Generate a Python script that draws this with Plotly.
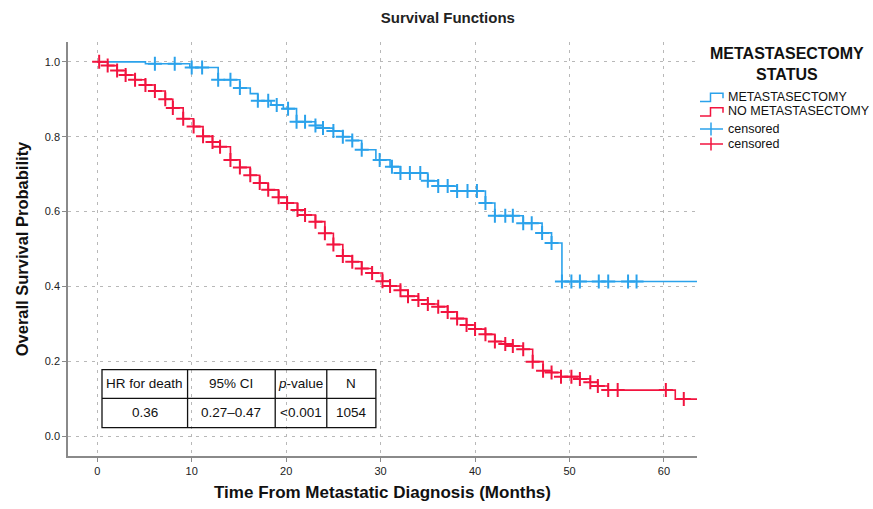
import numpy as np
import plotly.graph_objects as go

# ---------------- data ----------------
blue_times = [0, 5.1, 9.8, 12.8, 15.1, 16.2, 17.0, 18.4, 19.7, 21.1, 23.1, 23.9, 25.0, 26.0,
              27.0, 28.0, 29.5, 31.0, 32.1, 35.0, 36.1, 38.1, 41.1, 42.1, 45.1, 47.1, 48.1,
              49.2, 63.5]
blue_surv = [1.0, 0.995, 0.985, 0.952, 0.930, 0.915, 0.896, 0.885, 0.875, 0.840, 0.830, 0.823,
             0.815, 0.800, 0.790, 0.765, 0.738, 0.720, 0.703, 0.682, 0.668, 0.655, 0.623, 0.589,
             0.569, 0.543, 0.516, 0.413, 0.413]
blue_censor = [6.1, 8.2, 10.0, 11.1, 12.8, 14.1, 15.1, 17.0, 18.1, 19.0, 20.2, 21.1, 22.0, 23.1,
               23.9, 25.0, 26.0, 27.0, 28.0, 29.9, 31.2, 32.1, 33.1, 34.2, 35.0, 36.1, 37.1,
               38.1, 39.2, 40.2, 41.1, 42.1, 43.2, 44.0, 45.1, 46.0, 47.1, 48.1, 49.2, 50.2,
               51.1, 53.1, 54.1, 56.2, 57.1]

red_times = [0, 1.1, 2.1, 3.0, 4.0, 5.1, 6.1, 7.2, 8.0, 9.1, 10.2, 11.2, 12.2, 13.0, 14.1, 15.1,
             16.2, 17.2, 18.1, 19.2, 20.1, 21.2, 22.0, 23.1, 24.1, 25.0, 26.0, 27.0, 28.0, 29.1,
             30.2, 31.0, 32.1, 32.9, 34.0, 35.0, 36.1, 37.1, 38.1, 39.1, 40.0, 41.1, 42.1, 43.2,
             44.0, 45.1, 46.1, 47.2, 48.1, 49.1, 51.1, 52.2, 53.0, 54.1, 61.2, 63.5]
red_surv = [1.0, 0.99, 0.977, 0.965, 0.952, 0.938, 0.922, 0.90, 0.877, 0.848, 0.827, 0.801,
            0.786, 0.773, 0.738, 0.718, 0.697, 0.676, 0.658, 0.638, 0.623, 0.604, 0.591, 0.573,
            0.542, 0.512, 0.481, 0.466, 0.448, 0.436, 0.414, 0.401, 0.390, 0.374, 0.364, 0.353,
            0.346, 0.332, 0.314, 0.297, 0.286, 0.272, 0.253, 0.246, 0.241, 0.232, 0.199, 0.175,
            0.170, 0.159, 0.153, 0.144, 0.134, 0.123, 0.099, 0.099]
red_censor = [0.2, 1.1, 2.1, 3.0, 4.0, 5.1, 6.1, 7.2, 8.0, 9.1, 10.2, 11.2, 12.2, 13.0, 14.1,
              15.1, 16.2, 17.2, 18.1, 19.2, 20.1, 21.2, 22.0, 23.1, 24.1, 25.0, 26.0, 27.0, 28.0,
              29.1, 30.2, 31.0, 32.1, 32.9, 34.0, 35.0, 36.1, 37.1, 38.1, 39.1, 40.0, 41.1, 42.1,
              43.2, 44.0, 45.1, 46.1, 47.2, 48.1, 49.1, 50.2, 51.1, 52.2, 53.0, 54.1, 55.1, 60.2,
              62.1]

group_names = ["METASTASECTOMY", "NO METASTASECTOMY"]
censor_label = "censored"
legend_title = "METASTASECTOMY<br>STATUS"
table_header = ["HR for death", "95% CI", "<i>p</i>-value", "N"]
table_values = ["0.36", "0.27\u20130.47", "<0.001", "1054"]

x_ticks = [0, 10, 20, 30, 40, 50, 60]
y_ticks = [0.0, 0.2, 0.4, 0.6, 0.8, 1.0]

BLUE = "#2BA2EB"
RED = "#F2143F"
FONT = "Liberation Sans, Arial, sans-serif"

# plot-area geometry (pixels) used for the hand-drawn legend
W, H = 873, 509
ML, MR, MT, MB = 68, 176, 42, 53
PW, PH = W - ML - MR, H - MT - MB


def px2x(px):
    return (px - ML) / PW


def py2y(py):
    return (H - MB - py) / PH


def step_value(times, surv, t):
    idx = np.searchsorted(np.array(times), t, side="right") - 1
    return [surv[i] for i in idx]


fig = go.Figure()
fig.add_trace(go.Scatter(x=blue_times, y=blue_surv, mode="lines", line_shape="hv",
                         line=dict(color=BLUE, width=1.6), name=group_names[0]))
fig.add_trace(go.Scatter(x=red_times, y=red_surv, mode="lines", line_shape="hv",
                         line=dict(color=RED, width=1.6), name=group_names[1]))
fig.add_trace(go.Scatter(x=blue_censor, y=step_value(blue_times, blue_surv, blue_censor),
                         mode="markers", name=censor_label,
                         marker=dict(symbol="cross-thin", size=10,
                                     line=dict(color=BLUE, width=2))))
fig.add_trace(go.Scatter(x=red_censor, y=step_value(red_times, red_surv, red_censor),
                         mode="markers", name=censor_label,
                         marker=dict(symbol="cross-thin", size=10,
                                     line=dict(color=RED, width=2))))

# ---- HR table (drawn in data coordinates) ----
col_edges = [0.5, 9.56, 18.84, 24.3, 29.5]
row_edges = [0.178, 0.101, 0.023]
shapes = []
shapes.append(dict(type="rect", xref="x", yref="y", x0=col_edges[0], x1=col_edges[-1],
                   y0=row_edges[-1], y1=row_edges[0], line=dict(color="#111", width=1.3)))
for xe in col_edges[1:-1]:
    shapes.append(dict(type="line", xref="x", yref="y", x0=xe, x1=xe, y0=row_edges[-1],
                       y1=row_edges[0], line=dict(color="#111", width=1.3)))
shapes.append(dict(type="line", xref="x", yref="y", x0=col_edges[0], x1=col_edges[-1],
                   y0=row_edges[1], y1=row_edges[1], line=dict(color="#111", width=1.3)))
annotations = []
for i in range(4):
    xc = (col_edges[i] + col_edges[i + 1]) / 2
    for txt, yc in ((table_header[i], (row_edges[0] + row_edges[1]) / 2),
                    (table_values[i], (row_edges[1] + row_edges[2]) / 2)):
        annotations.append(dict(x=xc, y=yc, xref="x", yref="y", text=txt, showarrow=False,
                                font=dict(family=FONT, size=13.5, color="#111")))

# ---- legend (SPSS style: step icons for curves, tick icons for censored) ----
annotations.append(dict(x=px2x(787), y=py2y(64), xref="paper", yref="paper",
                        text="<b>" + legend_title + "</b>", showarrow=False, align="center",
                        xanchor="center", yanchor="middle",
                        font=dict(family=FONT, size=16, color="#111")))
legend_rows = [(group_names[0], BLUE, "step", 97),
               (group_names[1], RED, "step", 111.5),
               (censor_label, BLUE, "tick", 129),
               (censor_label, RED, "tick", 144)]
for label, col, kind, yc in legend_rows:
    if kind == "step":
        path_pts = [(700, yc + 4.5), (710.5, yc + 4.5), (710.5, yc - 3.7), (723, yc - 3.7),
                    (723, yc + 1.3)]
        path = "M " + " L ".join(f"{px2x(a):.5f},{py2y(b):.5f}" for a, b in path_pts)
        shapes.append(dict(type="path", xref="paper", yref="paper", path=path,
                           line=dict(color=col, width=1.5)))
    else:
        shapes.append(dict(type="line", xref="paper", yref="paper", x0=px2x(700),
                           x1=px2x(723), y0=py2y(yc), y1=py2y(yc),
                           line=dict(color=col, width=1.5)))
        shapes.append(dict(type="line", xref="paper", yref="paper", x0=px2x(711),
                           x1=px2x(711), y0=py2y(yc - 6.5), y1=py2y(yc + 6.5),
                           line=dict(color=col, width=1.5)))
    annotations.append(dict(x=px2x(726), y=py2y(yc), xref="paper", yref="paper",
                            text=label, showarrow=False, xanchor="left", yanchor="middle",
                            font=dict(family=FONT, size=12.5, color="#111")))

fig.update_layout(
    width=W, height=H,
    margin=dict(l=ML, r=MR, t=MT, b=MB, autoexpand=False),
    paper_bgcolor="white", plot_bgcolor="white",
    font=dict(family=FONT, color="#222"),
    title=dict(text="<b>Survival Functions</b>", x=0.513, xanchor="center", y=0.965,
               yanchor="middle", font=dict(family=FONT, size=15, color="#222")),
    showlegend=False,
    shapes=shapes, annotations=annotations,
)
fig.update_xaxes(range=[-3.1, 63.5], tickvals=x_ticks, showgrid=True, gridcolor="#b8b8b8",
                 griddash="3px,5px", gridwidth=1, zeroline=False, showline=True,
                 linecolor="#8a8a8a", linewidth=1.5, ticks="outside", ticklen=4,
                 tickcolor="#8a8a8a", tickfont=dict(size=11, color="#222"),
                 title=dict(text="<b>Time From Metastatic Diagnosis (Months)</b>",
                            font=dict(size=17, color="#111"), standoff=10))
fig.update_yaxes(range=[-0.053, 1.053], tickvals=y_ticks, tickformat=".1f", showgrid=True,
                 gridcolor="#b8b8b8", griddash="3px,5px", gridwidth=1, zeroline=False,
                 showline=True, linecolor="#8a8a8a", linewidth=1.5, ticks="outside",
                 ticklen=4, tickcolor="#8a8a8a", tickfont=dict(size=11, color="#222"),
                 title=dict(text="<b>Overall Survival Probability</b>",
                            font=dict(size=16.5, color="#111"), standoff=12))

fig.write_html("out.html")
